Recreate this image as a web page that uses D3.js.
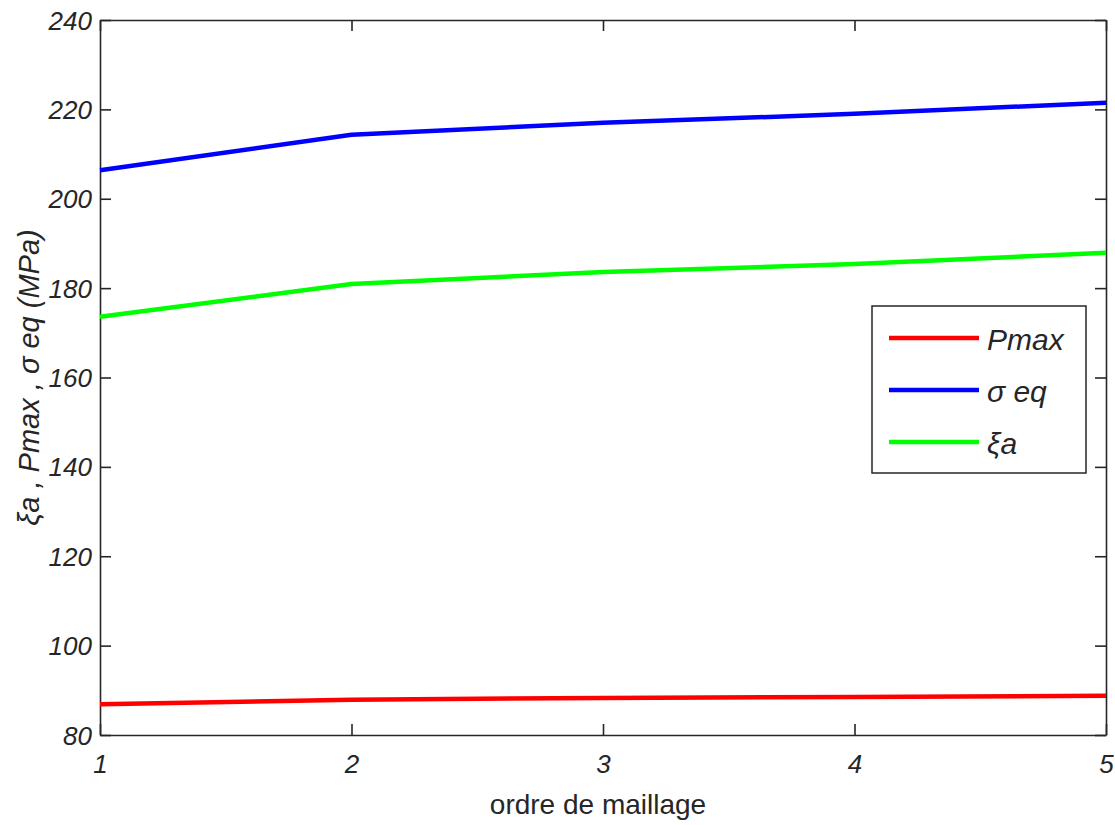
<!DOCTYPE html>
<html>
<head>
<meta charset="utf-8">
<script src="https://cdn.jsdelivr.net/npm/d3@7"></script>
<style>
  html, body { margin: 0; padding: 0; background: #fff; }
  svg { display: block; }
  text { font-family: "Liberation Sans", Arial, Helvetica, sans-serif; fill: #262626; }
</style>
</head>
<body>
<svg id="chart" width="1115" height="825"></svg>
<script>
// Mesh refinement order on the x axis
const meshOrder = [1, 2, 3, 4, 5];
// Stress results (MPa) for each mesh order
const pmax = [86.9, 87.9, 88.3, 88.5, 88.8];
const sigmaEq = [206.4, 214.3, 217.0, 219.0, 221.5];
const xiA = [173.6, 180.9, 183.6, 185.4, 187.9];
const yTicks = [80, 100, 120, 140, 160, 180, 200, 220, 240];
const xTicks = [1, 2, 3, 4, 5];

const series = [
  { name: "Pmax", values: pmax, color: "#ff0000" },
  { name: "σ eq", values: sigmaEq, color: "#0000ff" },
  { name: "ξa", values: xiA, color: "#00ff00" }
];

const svg = d3.select("#chart");
const L = 100, R = 1106, T = 20, B = 735;

const x = d3.scaleLinear().domain([1, 5]).range([L, R]);
const y = d3.scaleLinear().domain([80, 240]).range([B, T]);

const axisColor = "#262626";
const tickLen = 11;

// Axes: ticks point inward, mirrored on top and right
const gBottom = svg.append("g").attr("transform", `translate(0,${B})`)
  .call(d3.axisBottom(x).tickValues(xTicks).tickSizeInner(-tickLen).tickSizeOuter(0).tickPadding(20).tickFormat(d3.format("d")));
const gTop = svg.append("g").attr("transform", `translate(0,${T})`)
  .call(d3.axisTop(x).tickValues(xTicks).tickSizeInner(-tickLen).tickSizeOuter(0).tickFormat(""));
const gLeft = svg.append("g").attr("transform", `translate(${L},0)`)
  .call(d3.axisLeft(y).tickValues(yTicks).tickSizeInner(-tickLen).tickSizeOuter(0).tickPadding(20).tickFormat(d3.format("d")));
const gRight = svg.append("g").attr("transform", `translate(${R},0)`)
  .call(d3.axisRight(y).tickValues(yTicks).tickSizeInner(-tickLen).tickSizeOuter(0).tickFormat(""));

[gBottom, gTop, gLeft, gRight].forEach(g => {
  g.select(".domain").attr("stroke", axisColor).attr("stroke-width", 1.6);
  g.selectAll(".tick line").attr("stroke", axisColor).attr("stroke-width", 1.6);
  g.selectAll(".tick text")
    .style("font-family", '"Liberation Sans", Arial, sans-serif')
    .style("font-style", "italic")
    .style("font-size", "26px")
    .attr("fill", axisColor);
});
gLeft.selectAll(".tick text").attr("dy", "0.35em").attr("x", -8);
gBottom.selectAll(".tick text").attr("y", 20).attr("dy", "0.71em");

// Data lines
const line = d3.line().x((d, i) => x(meshOrder[i])).y(d => y(d));
series.forEach(s => {
  svg.append("path")
    .datum(s.values)
    .attr("fill", "none")
    .attr("stroke", s.color)
    .attr("stroke-width", 4.5)
    .attr("stroke-linejoin", "round")
    .attr("d", line);
});

// Axis titles
svg.append("text")
  .attr("x", 598).attr("y", 814)
  .attr("text-anchor", "middle")
  .style("font-size", "28px")
  .text("ordre de maillage");

svg.append("text")
  .attr("transform", `translate(39,${(T + B) / 2}) rotate(-90)`)
  .attr("text-anchor", "middle")
  .style("font-size", "29px")
  .style("font-style", "italic")
  .text("ξa , Pmax , σ eq (MPa)");

// Legend
const lg = svg.append("g");
lg.append("rect")
  .attr("x", 872).attr("y", 306).attr("width", 214).attr("height", 167)
  .attr("fill", "#fff").attr("stroke", axisColor).attr("stroke-width", 1.5);
const legendRows = [338, 390, 442];
const legendGlyph = [null, "σ", "ξ"];
series.forEach((s, i) => {
  lg.append("line")
    .attr("x1", 889).attr("x2", 979)
    .attr("y1", legendRows[i]).attr("y2", legendRows[i])
    .attr("stroke", s.color).attr("stroke-width", 4.5);
  lg.append("text")
    .attr("x", 987).attr("y", legendRows[i] + 12)
    .style("font-size", "30px")
    .style("font-style", "italic")
    .attr("fill", "#111")
    .text(s.name);
});
</script>
</body>
</html>
